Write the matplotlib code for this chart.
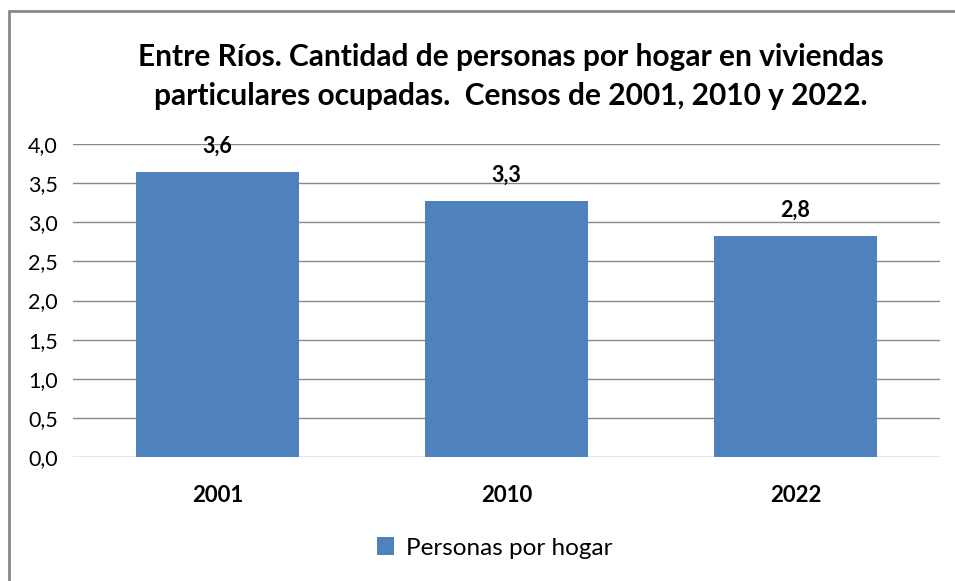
import matplotlib.pyplot as plt
from matplotlib.patches import Rectangle

# === DATOS ===
anios = ['2001', '2010', '2022']
personas = [3.64, 3.27, 2.82]
etiquetas = ['3,6', '3,3', '2,8']
ticks_y = [0.0, 0.5, 1.0, 1.5, 2.0, 2.5, 3.0, 3.5, 4.0]
ticks_y_txt = ['0,0', '0,5', '1,0', '1,5', '2,0', '2,5', '3,0', '3,5', '4,0']

plt.rcParams['font.family'] = ['Lato', 'DejaVu Sans']
AZUL = '#4F81BD'
GRIS = '#898989'

fig = plt.figure(figsize=(9.55, 5.81), dpi=100)
W, H = 955, 581

# marco del gráfico
fig.patches.append(Rectangle((9 / W, -0.05), 1.1, 1 - 11 / H + 0.05, transform=fig.transFigure,
                             fill=False, edgecolor=GRIS, linewidth=2))

ax = fig.add_axes([73 / W, 1 - 457 / H, (940 - 73) / W, (457 - 144) / H])
x = range(len(anios))
barras = ax.bar(x, personas, width=0.567, color=AZUL, zorder=3, label='Personas por hogar')

for xi, v, t in zip(x, personas, etiquetas):
    ax.text(xi, v + 0.2, t, ha='center', va='bottom', fontsize=15.5, fontweight='bold')

ax.set_xlim(-0.5, 2.5)
ax.set_ylim(0, 4)
ax.set_yticks(ticks_y)
ax.set_yticklabels(ticks_y_txt, fontsize=15.5)
ax.set_xticks(list(x))
ax.set_xticklabels(anios, fontsize=16, fontweight='bold')
ax.tick_params(axis='y', length=0, pad=11)
ax.tick_params(axis='x', length=0, pad=20)
ax.grid(axis='y', color=GRIS, linewidth=1, zorder=0)
for s in ax.spines.values():
    s.set_visible(False)

fig.text(511 / W, 1 - 57 / H, 'Entre Ríos. Cantidad de personas por hogar en viviendas',
         ha='center', va='center', fontsize=21.5, fontweight='bold')
fig.text(511 / W, 1 - 96 / H, 'particulares ocupadas.  Censos de 2001, 2010 y 2022.',
         ha='center', va='center', fontsize=21.5, fontweight='bold')

fig.legend(handles=[barras], loc='center', bbox_to_anchor=(495 / W, 1 - 548 / H),
           frameon=False, fontsize=17.5, handlelength=0.7, handleheight=0.7, handletextpad=0.5)

fig.savefig('out.png', dpi=100)
